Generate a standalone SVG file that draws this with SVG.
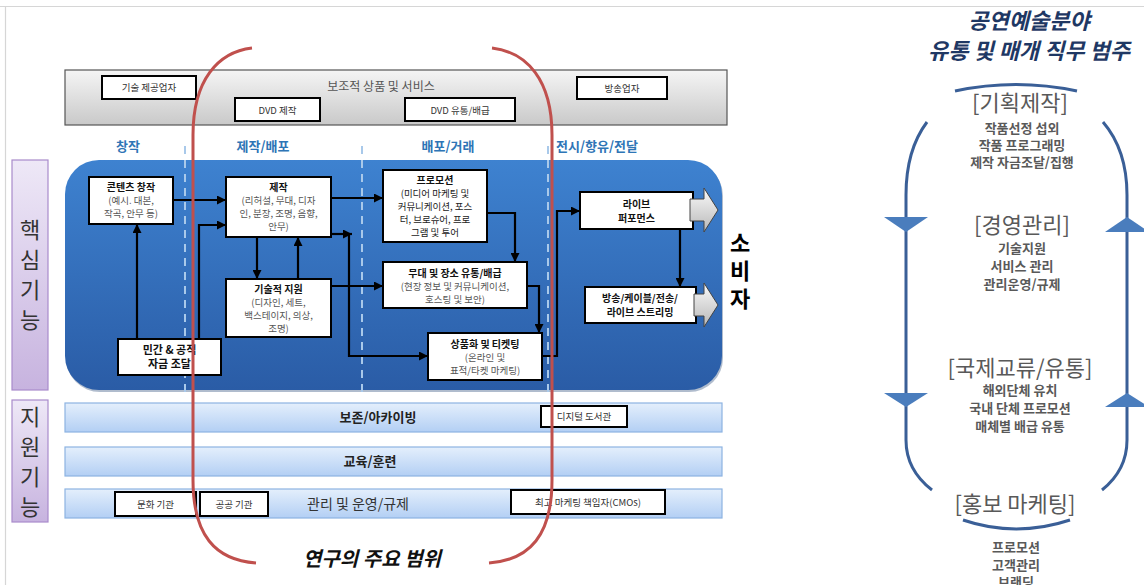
<svg xmlns="http://www.w3.org/2000/svg" width="1144" height="585" viewBox="0 0 1144 585">
<defs>
<linearGradient id="gBar" x1="0" y1="0" x2="0" y2="1"><stop offset="0" stop-color="#F5F5F5"/><stop offset="1" stop-color="#C9C9C9"/></linearGradient>
<linearGradient id="gBlue" x1="0" y1="0" x2="0" y2="1"><stop offset="0" stop-color="#3E82D0"/><stop offset="1" stop-color="#2A5CA6"/></linearGradient>
<linearGradient id="gPurple" x1="0" y1="0" x2="0" y2="1"><stop offset="0" stop-color="#EEE8F7"/><stop offset="1" stop-color="#C7B3DF"/></linearGradient>
<linearGradient id="gLight" x1="0" y1="0" x2="0" y2="1"><stop offset="0" stop-color="#E4EFFC"/><stop offset="1" stop-color="#B3CFF4"/></linearGradient>
<linearGradient id="gArrow" x1="0" y1="0" x2="0" y2="1"><stop offset="0" stop-color="#FAFAFA"/><stop offset="1" stop-color="#B8B8B8"/></linearGradient>
<marker id="ah" viewBox="0 0 10 10" refX="10" refY="5" markerWidth="9" markerHeight="9" markerUnits="userSpaceOnUse" orient="auto"><path d="M0,0 L10,5 L0,10 z" fill="#000"/></marker>
</defs>
<style>
text{font-family:"Noto Sans CJK KR","Noto Sans",sans-serif}
.node rect{fill:#fff;stroke:#000;stroke-width:2}
.tb{font-weight:700;font-size:10px;fill:#111;text-anchor:middle}
.ts{font-size:9.5px;fill:#555;text-anchor:middle}
.td{font-size:9.5px;fill:#222;text-anchor:middle}
.conn path{fill:none;stroke:#000;stroke-width:2.2}
.box rect{fill:#fff;stroke:#000;stroke-width:2}
.box text{font-size:9.5px;fill:#333;text-anchor:middle}
.hdr{font-size:13px;font-weight:700;fill:#2E75B6;text-anchor:middle}
.dash{stroke:#A9C9EA;stroke-width:2;stroke-dasharray:8,6}
.bar{fill:url(#gLight);stroke:#8DB3E2;stroke-width:1.2}
.vlab{font-size:22px;fill:#333;text-anchor:middle}
.rp{fill:none;stroke:#3A5F97;stroke-width:3}
.tri{fill:#4A7DBD}
.rh{font-size:22px;fill:#595959;text-anchor:middle}
.rs{font-size:13px;font-weight:700;fill:#595959;text-anchor:middle}
.red{fill:none;stroke:#C0504D;stroke-width:3}
.cons{font-size:22px;font-weight:700;fill:#000;text-anchor:middle}
.ttl{font-size:22px;font-weight:700;font-style:italic;fill:#1F3864;text-anchor:middle}
</style>
<rect width="1144" height="585" fill="#fff"/>
<path d="M0,6.5 H1144 M5.5,6 V585" stroke="#D6D6D6" stroke-width="1.2" fill="none"/>

<!-- top bar -->
<g id="top-bar">
<rect x="65" y="70" width="662" height="55" fill="url(#gBar)" stroke="#555" stroke-width="1.2"/>
<text x="381" y="91" style="font-size:12px;fill:#555;text-anchor:middle">보조적 상품 및 서비스</text>
</g>
<g id="tech-provider" class="box"><rect x="102" y="76" width="94" height="23"/><text x="149" y="91">기술 제공업자</text></g>
<g id="dvd-make" class="box"><rect x="235" y="98" width="85" height="23"/><text x="277.5" y="113.5">DVD 제작</text></g>
<g id="dvd-dist" class="box"><rect x="405" y="98" width="110" height="23"/><text x="460" y="113.5">DVD 유통/배급</text></g>
<g id="broadcaster" class="box"><rect x="577" y="77" width="90" height="22"/><text x="622" y="91.5">방송업자</text></g>

<!-- column headers -->
<g id="headers">
<text class="hdr" x="128" y="151">창작</text>
<text class="hdr" x="263" y="151">제작/배포</text>
<text class="hdr" x="448" y="151">배포/거래</text>
<text class="hdr" x="597" y="151">전시/향유/전달</text>
</g>

<!-- side labels -->
<g id="core-label">
<rect x="12" y="160" width="36" height="230" fill="url(#gPurple)" stroke="#A98BCB" stroke-width="1.2"/>
<text class="vlab" x="30" y="238">핵</text><text class="vlab" x="30" y="268">심</text><text class="vlab" x="30" y="298">기</text><text class="vlab" x="30" y="328">능</text>
</g>
<g id="support-label">
<rect x="12" y="400" width="36" height="122" fill="url(#gPurple)" stroke="#A98BCB" stroke-width="1.2"/>
<text class="vlab" x="30" y="425">지</text><text class="vlab" x="30" y="455">원</text><text class="vlab" x="30" y="485">기</text><text class="vlab" x="30" y="515">능</text>
</g>

<!-- blue core area -->
<g id="core-area">
<rect x="66" y="162" width="657" height="230" rx="34" fill="#1E3F70" opacity="0.35"/>
<rect x="65" y="160" width="657" height="230" rx="34" fill="url(#gBlue)"/>
</g>
<g id="dividers">
<line class="dash" x1="185" y1="146" x2="185" y2="398"/>
<line class="dash" x1="362" y1="146" x2="362" y2="398"/>
<line class="dash" x1="548" y1="146" x2="548" y2="398"/>
</g>

<!-- connectors -->
<g id="connectors" class="conn">
<path d="M173,200 H226" marker-end="url(#ah)"/>
<path d="M137,339 V224" marker-end="url(#ah)"/>
<path d="M199,339 V225 H226" marker-end="url(#ah)"/>
<path d="M257,237 V279" marker-end="url(#ah)"/>
<path d="M298,279 V237" marker-end="url(#ah)"/>
<path d="M331,198 H383" marker-end="url(#ah)"/>
<path d="M331,234 H352" marker-end="url(#ah)"/>
<path d="M349,234 V356 H428" marker-end="url(#ah)"/>
<path d="M331,286 H383" marker-end="url(#ah)"/>
<path d="M487,213 H515 V262" marker-end="url(#ah)"/>
<path d="M527,286 H539 V333" marker-end="url(#ah)"/>
<path d="M542,356 H557 V211 H580" marker-end="url(#ah)"/>
<path d="M680,229 V287" marker-end="url(#ah)"/>
</g>

<!-- nodes -->
<g id="content-creation" class="node"><rect x="89" y="177" width="84" height="47"/>
<text class="tb" x="131" y="190.5">콘텐츠 창작</text><text class="ts" x="131" y="203.5">(예시. 대본,</text><text class="ts" x="131" y="216.5">작곡, 안무 등)</text></g>
<g id="production" class="node"><rect x="226" y="177" width="105" height="60"/>
<text class="tb" x="278.5" y="190.5">제작</text><text class="ts" x="278.5" y="203.5">(리허설, 무대, 디자</text><text class="ts" x="278.5" y="216.5">인, 분장, 조명, 음향,</text><text class="ts" x="278.5" y="229.5">안무)</text></g>
<g id="tech-support" class="node"><rect x="226" y="279" width="105" height="58"/>
<text class="tb" x="278.5" y="292.5">기술적 지원</text><text class="ts" x="278.5" y="305.5">(디자인, 세트,</text><text class="ts" x="278.5" y="318.5">백스테이지, 의상,</text><text class="ts" x="278.5" y="331.5">조명)</text></g>
<g id="funding" class="node"><rect x="118" y="339" width="103" height="36"/>
<text class="tb" x="169.5" y="354" style="font-size:11px">민간 &amp; 공적</text><text class="tb" x="169.5" y="368" style="font-size:11px">자금 조달</text></g>
<g id="promotion" class="node"><rect x="383" y="170" width="104" height="72"/>
<text class="tb" x="435" y="183.5">프로모션</text><text class="td" x="435" y="196.5">(미디어 마케팅 및</text><text class="td" x="435" y="209.5">커뮤니케이션, 포스</text><text class="td" x="435" y="222.5">터, 브로슈어, 프로</text><text class="td" x="435" y="235.5">그램 및 투어</text></g>
<g id="venue-dist" class="node"><rect x="383" y="262" width="144" height="46"/>
<text class="tb" x="455" y="276.5">무대 및 장소 유통/배급</text><text class="ts" x="455" y="289.5">(현장 정보 및 커뮤니케이션,</text><text class="ts" x="455" y="302.5">호스팅 및 보안)</text></g>
<g id="ticketing" class="node"><rect x="428" y="333" width="114" height="47"/>
<text class="tb" x="485" y="347.5">상품화 및 티켓팅</text><text class="ts" x="485" y="360.5">(온라인 및</text><text class="ts" x="485" y="373.5">표적/타켓 마케팅)</text></g>
<g id="live" class="node"><rect x="580" y="192" width="113" height="37"/>
<text class="tb" x="636.5" y="207.5">라이브</text><text class="tb" x="636.5" y="221.5">퍼포먼스</text>
<polygon points="690,199 704,199 704,188 718,210 704,232 704,221 690,221" fill="url(#gArrow)" stroke="#444" stroke-width="1"/></g>
<g id="broadcast" class="node"><rect x="585" y="287" width="111" height="36"/>
<text class="tb" x="640" y="302">방송/케이블/전송/</text><text class="tb" x="640" y="316">라이브 스트리밍</text>
<polygon points="694,294 704,294 704,283 718,305 704,327 704,316 694,316" fill="url(#gArrow)" stroke="#444" stroke-width="1"/></g>

<g id="consumer">
<text class="cons"><tspan x="740" y="251">소</tspan><tspan x="740" y="279">비</tspan><tspan x="740" y="307">자</tspan></text>
</g>

<!-- support bars -->
<g id="archive"><rect class="bar" x="65" y="403" width="657" height="29"/>
<text x="378" y="422" style="font-size:13px;font-weight:700;fill:#222;text-anchor:middle">보존/아카이빙</text></g>
<g id="digital-library" class="box"><rect x="541" y="406" width="86" height="21"/><text x="584" y="420">디지털 도서관</text></g>
<g id="education"><rect class="bar" x="65" y="447" width="657" height="29"/>
<text x="370" y="466" style="font-size:13px;font-weight:700;fill:#222;text-anchor:middle">교육/훈련</text></g>
<g id="management"><rect class="bar" x="65" y="489" width="657" height="29"/>
<text x="358" y="509" style="font-size:14px;fill:#333;text-anchor:middle">관리 및 운영/규제</text></g>
<g id="culture-inst" class="box"><rect x="115" y="492" width="81" height="24"/><text x="155.5" y="507.5">문화 기관</text></g>
<g id="public-inst" class="box"><rect x="200" y="492" width="68" height="24"/><text x="234" y="507.5">공공 기관</text></g>
<g id="cmo" class="box"><rect x="511" y="490" width="154" height="24"/><text x="588" y="505.5">최고 마케팅 책임자(CMOs)</text></g>

<!-- research scope -->
<g id="scope">
<path class="red" d="M252,48 C218,52 193,80 193,135 L193,480 C193,535 215,560 256,563"/>
<path class="red" d="M492,48 C527,52 552,80 552,135 L552,480 C552,535 530,560 489,563"/>
<text x="372" y="566" style="font-size:20px;font-weight:700;font-style:italic;fill:#111;text-anchor:middle">연구의 주요 범위</text>
</g>

<!-- right panel -->
<g id="rp-title">
<text class="ttl" x="1029" y="29">공연예술분야</text>
<text class="ttl" x="1029" y="59">유통 및 매개 직무 범주</text>
</g>
<g id="rp-cycle">
<path class="rp" d="M955,91 Q1016,78 1077,91"/>
<path class="rp" d="M927,122 Q906,150 906,195 L906,440 Q906,470 932,490"/>
<path class="rp" d="M1103,122 Q1127,150 1127,195 L1127,440 Q1127,470 1102,490"/>
<path class="rp" d="M963,520 Q1016,538 1070,520"/>
<polygon class="tri" points="884,217 928,217 906,232"/>
<polygon class="tri" points="1105,232 1149,232 1127,217"/>
<polygon class="tri" points="884,393 928,393 906,407"/>
<polygon class="tri" points="1105,407 1149,407 1127,393"/>
</g>
<g id="rp-planning">
<text class="rh" x="1020" y="111">[기획제작]</text>
<text class="rs" x="1022" y="133">작품선정 섭외</text>
<text class="rs" x="1022" y="150">작품 프로그래밍</text>
<text class="rs" x="1022" y="167">제작 자금조달/집행</text>
</g>
<g id="rp-management">
<text class="rh" x="1022" y="233">[경영관리]</text>
<text class="rs" x="1022" y="253">기술지원</text>
<text class="rs" x="1022" y="271">서비스 관리</text>
<text class="rs" x="1022" y="289">관리운영/규제</text>
</g>
<g id="rp-intl">
<text class="rh" x="1020" y="376">[국제교류/유통]</text>
<text class="rs" x="1020" y="395">해외단체 유치</text>
<text class="rs" x="1020" y="413">국내 단체 프로모션</text>
<text class="rs" x="1020" y="431">매체별 배급 유통</text>
</g>
<g id="rp-marketing">
<text class="rh" x="1015" y="512">[홍보 마케팅]</text>
<text class="rs" x="1016" y="552">프로모션</text>
<text class="rs" x="1016" y="570">고객관리</text>
<text class="rs" x="1016" y="587">브랜딩</text>
</g>
</svg>
